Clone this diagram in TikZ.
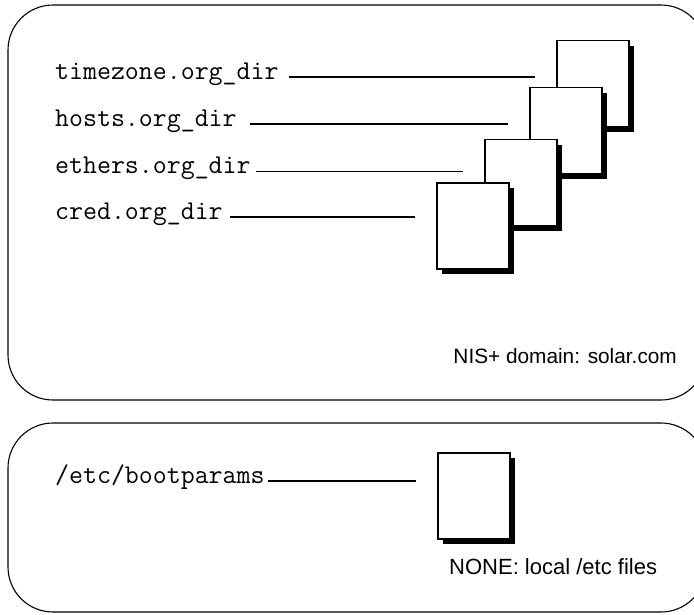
\documentclass[tikz,border=0pt]{standalone}
\usepackage{fontspec}
\newfontfamily\sansfont{Liberation Sans}
\usetikzlibrary{shadows}
\tikzset{
  region/.style={draw=black, line width=1.1pt, rounded corners=45pt},
  label/.style={inner sep=0pt, anchor=mid west, font=\ttfamily\fontsize{27.1}{32}\selectfont},
  caption/.style={inner sep=0pt, font=\sansfont\fontsize{20.8}{25}\selectfont},
  docbox/.style={draw=black, fill=white, line width=1.8pt, minimum width=72pt, minimum height=86pt, inner sep=0pt,
    general shadow={shadow xshift=5pt, shadow yshift=-5pt, fill=black}},
  lead/.style={draw=black, line width=1.2pt, shorten >=21pt}
}
\begin{document}
\begin{tikzpicture}[x=1pt, y=-1pt]
\useasboundingbox (0,0) rectangle (694,614);
\begin{scope}
\clip (0,0) rectangle (694,614);
\draw[region] (8,5) rectangle (706,400);
\draw[region] (8,423) rectangle (706,612);
\end{scope}
% documents, back to front
\node[docbox] (b1) at (593,83.5) {};
\node[docbox] (b2) at (566,130.5) {};
\node[docbox] (b3) at (521,182.5) {};
\node[docbox] (b4) at (473,226) {};
\node[docbox] (b5) at (474,496) {};
% labels
\node[label] (t1) at (55,77) {timezone.org\_dir};
\node[label] (t2) at (55,124) {hosts.org\_dir};
\node[label] (t3) at (55,171.5) {ethers.org\_dir};
\node[label] (t4) at (55,217) {cred.org\_dir};
\node[label] (t5) at (55,481) {/etc/bootparams};
% leaders
\draw[lead, shorten <=10pt] (t1.mid east) -- (t1.mid east -| b1.west);
\draw[lead, shorten <=13pt] (t2.mid east) -- (t2.mid east -| b2.west);
\draw[lead, shorten <=5pt] (t3.mid east) -- (t3.mid east -| b3.west);
\draw[lead, shorten <=7pt] (t4.mid east) -- (t4.mid east -| b4.west);
\draw[lead, shorten <=3pt] (t5.mid east) -- (t5.mid east -| b5.west);
% captions
\node[caption, anchor=base east] (c1) at (677,363) {NIS+ domain: solar.com};
\node[caption, anchor=base west, font=\sansfont\fontsize{22}{26}\selectfont] (c2) at (449,574) {NONE: local /etc files};
\end{tikzpicture}
\end{document}
